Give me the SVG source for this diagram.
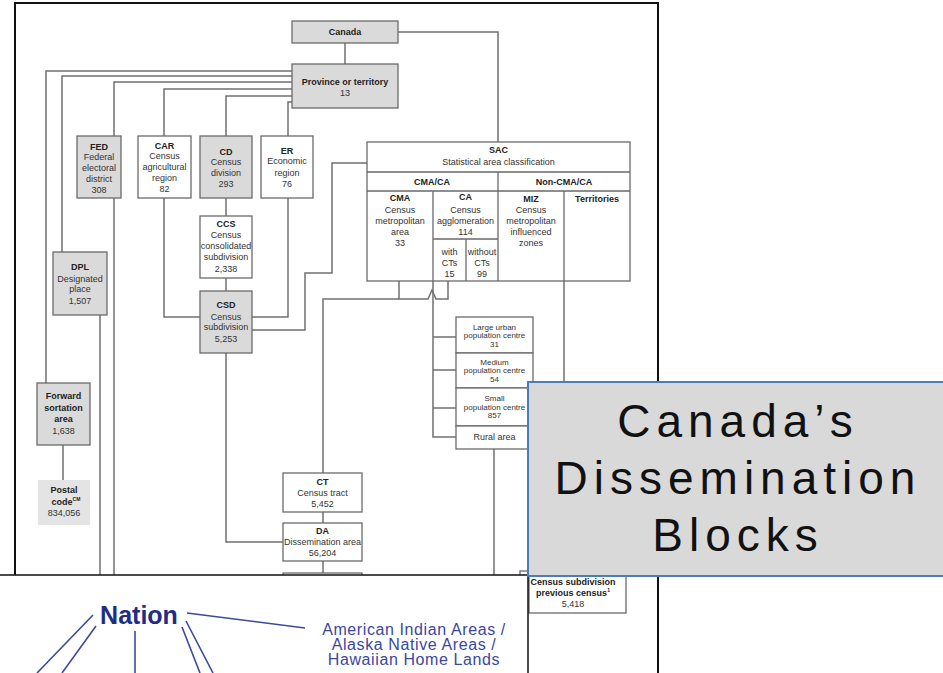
<svg xmlns="http://www.w3.org/2000/svg" width="943" height="673" viewBox="0 0 943 673">
<style>
.bx{fill:#fff;stroke:#6a6a6a;stroke-width:1.3}
.g{fill:#dadada}
.ln{fill:none;stroke:#707070;stroke-width:1.5}
text{font-family:"Liberation Sans",Arial,sans-serif;font-size:9px;fill:#333;text-anchor:middle}
.b{font-weight:bold;fill:#222}
.s{font-size:8px}
.big{font-size:46px;fill:#111;letter-spacing:6px}
.nav{fill:#3b47a0;font-size:16px;letter-spacing:0.6px}
</style>
<rect x="0" y="0" width="943" height="673" fill="#fff"/>
<rect x="15" y="3" width="643" height="690" fill="#fff" stroke="#111" stroke-width="2"/>
<g id="connectors">
<path class="ln" d="M345,43V64"/>
<path class="ln" d="M398,32H498V142"/>
<path class="ln" d="M292,71H46V383"/>
<path class="ln" d="M292,76H62V252"/>
<path class="ln" d="M292,82H114V136"/>
<path class="ln" d="M292,89H164V136"/>
<path class="ln" d="M292,96H226V136"/>
<path class="ln" d="M292,102H288V136"/>
<path class="ln" d="M114,198V576"/>
<path class="ln" d="M100,315V576"/>
<path class="ln" d="M226,198V216"/>
<path class="ln" d="M226,278V291"/>
<path class="ln" d="M164,198V317H200"/>
<path class="ln" d="M288,198V317H252"/>
<path class="ln" d="M252,330H305V273H332V163H367"/>
<path class="ln" d="M226,353V542H283"/>
<path class="ln" d="M63,445V480"/>
<path class="ln" d="M399,281V299H428L432,290L436,299H448V281"/>
<path class="ln" d="M399,299H323V473"/>
<path class="ln" d="M433,281V437H456M433,337H456M433,370H456M433,408H456"/>
<path class="ln" d="M323,512V523"/>
<path class="ln" d="M323,561V576"/>
<path class="ln" d="M494,449V576"/>
<path class="ln" d="M564,281V382"/>
</g>
<g id="canada"><rect class="bx g" x="292" y="21" width="106" height="22"/><text class="b" x="345" y="35">Canada</text></g>
<g id="province"><rect class="bx g" x="292" y="64" width="106" height="44"/><text class="b" x="345" y="85">Province or territory</text><text x="345" y="96">13</text></g>
<g id="fed"><rect class="bx g" x="77" y="136" width="44" height="62"/><text x="99" y="150" class="b">FED</text><text x="99" y="160">Federal</text><text x="99" y="171">electoral</text><text x="99" y="182">district</text><text x="99" y="193">308</text></g>
<g id="car"><rect class="bx" x="138" y="136" width="53" height="62"/><text x="164.5" y="149" class="b">CAR</text><text x="164.5" y="159">Census</text><text x="164.5" y="170">agricultural</text><text x="164.5" y="181">region</text><text x="164.5" y="192">82</text></g>
<g id="cd"><rect class="bx g" x="200" y="136" width="52" height="62"/><text x="226" y="155" class="b">CD</text><text x="226" y="165">Census</text><text x="226" y="176">division</text><text x="226" y="187">293</text></g>
<g id="er"><rect class="bx" x="261" y="136" width="52" height="62"/><text x="287" y="154" class="b">ER</text><text x="287" y="164">Economic</text><text x="287" y="176">region</text><text x="287" y="187">76</text></g>
<g id="ccs"><rect class="bx" x="200" y="216" width="52" height="62"/><text x="226" y="227" class="b">CCS</text><text x="226" y="238">Census</text><text x="226" y="249">consolidated</text><text x="226" y="260">subdivision</text><text x="226" y="272">2,338</text></g>
<g id="csd"><rect class="bx g" x="200" y="291" width="52" height="62"/><text x="226" y="308" class="b">CSD</text><text x="226" y="320">Census</text><text x="226" y="330">subdivision</text><text x="226" y="342">5,253</text></g>
<g id="dpl"><rect class="bx g" x="53" y="252" width="54" height="63"/><text x="80" y="270" class="b">DPL</text><text x="80" y="282">Designated</text><text x="80" y="292">place</text><text x="80" y="304">1,507</text></g>
<g id="fsa"><rect class="bx g" x="37" y="383" width="53" height="62"/><text x="63.5" y="399" class="b">Forward</text><text x="63.5" y="411" class="b">sortation</text><text x="63.5" y="422" class="b">area</text><text x="63.5" y="434">1,638</text></g>
<g id="postal"><rect x="38" y="480" width="52" height="45" fill="#e4e4e4"/><text x="64" y="493" class="b">Postal</text><text x="66" y="505" class="b">code<tspan font-size="5" dy="-4">CM</tspan></text><text x="64" y="516">834,056</text></g>
<g id="sac">
<rect class="bx" x="367" y="142" width="263" height="139"/>
<path class="ln" style="stroke:#6a6a6a;stroke-width:1.3" d="M367,172H630M367,191H630M433,191V281M498,172V281M564,191V281M433,239H498M466,239V281"/>
<text class="b" x="498.5" y="153">SAC</text><text x="498.5" y="165">Statistical area classification</text>
<text class="b" x="432" y="185">CMA/CA</text><text class="b" x="564" y="185">Non-CMA/CA</text>
<text class="b" x="400" y="201">CMA</text><text x="400" y="213">Census</text><text x="400" y="224">metropolitan</text><text x="400" y="235">area</text><text x="400" y="246">33</text>
<text class="b" x="465.5" y="200">CA</text><text x="465.5" y="213">Census</text><text x="465.5" y="224">agglomeration</text><text x="465.5" y="235">114</text>
<text x="449.5" y="255">with</text><text x="449.5" y="266">CTs</text><text x="449.5" y="277">15</text>
<text x="482" y="255">without</text><text x="482" y="266">CTs</text><text x="482" y="277">99</text>
<text class="b" x="531" y="202">MIZ</text><text x="531" y="213">Census</text><text x="531" y="224">metropolitan</text><text x="531" y="235">influenced</text><text x="531" y="246">zones</text>
<text class="b" x="597" y="202">Territories</text>
</g>
<g id="large"><rect class="bx" x="456" y="317" width="77" height="36"/><text class="s" x="494.5" y="329.5">Large urban</text><text class="s" x="494.5" y="338">population centre</text><text class="s" x="494.5" y="346.5">31</text></g>
<g id="medium"><rect class="bx" x="456" y="353" width="77" height="35"/><text class="s" x="494.5" y="364.5">Medium</text><text class="s" x="494.5" y="373">population centre</text><text class="s" x="494.5" y="381.5">54</text></g>
<g id="small"><rect class="bx" x="456" y="388" width="77" height="38"/><text class="s" x="494.5" y="401">Small</text><text class="s" x="494.5" y="409.5">population centre</text><text class="s" x="494.5" y="418">857</text></g>
<g id="rural"><rect class="bx" x="456" y="426" width="77" height="23"/><text x="494.5" y="440">Rural area</text></g>
<g id="ct"><rect class="bx" x="283" y="473" width="79" height="39"/><text class="b" x="322.5" y="485">CT</text><text x="322.5" y="496">Census tract</text><text x="322.5" y="507">5,452</text></g>
<g id="da"><rect class="bx" x="283" y="523" width="79" height="38"/><text class="b" x="322.5" y="534">DA</text><text x="322.5" y="545">Dissemination area</text><text x="322.5" y="556">56,204</text></g>
<g id="db"><rect class="bx" x="283" y="573" width="79" height="20"/></g>
<g id="csdprev"><rect class="bx" x="520" y="571" width="10" height="10"/><rect class="bx" x="529" y="560" width="97" height="53"/><text class="b" x="573" y="585">Census subdivision</text><text class="b" x="573" y="596">previous census<tspan font-size="5" dy="-4">1</tspan></text><text x="573" y="607">5,418</text></g>
<g id="nation-panel">
<rect x="-2" y="575" width="530" height="110" fill="#fff" stroke="#111" stroke-width="1.5"/>
<text x="139" y="624" style="font-size:25px;font-weight:bold;fill:#222c84">Nation</text>
<path d="M187,613L305,628M93,615L37,673M96,626L62,673M135,631V673M182,627L200,673M186,621L213,673" fill="none" stroke="#3b4a9c" stroke-width="1.6"/>
<text class="nav" x="414" y="635">American Indian Areas /</text>
<text class="nav" x="414" y="650">Alaska Native Areas /</text>
<text class="nav" x="414" y="665">Hawaiian Home Lands</text>
</g>
<g id="title">
<rect x="528" y="382" width="420" height="194" fill="#d9d9d9" stroke="#4a7ebb" stroke-width="2"/>
<text class="big" x="738" y="437">Canada’s</text>
<text class="big" x="738" y="494">Dissemination</text>
<text class="big" x="738" y="551">Blocks</text>
</g>
</svg>
